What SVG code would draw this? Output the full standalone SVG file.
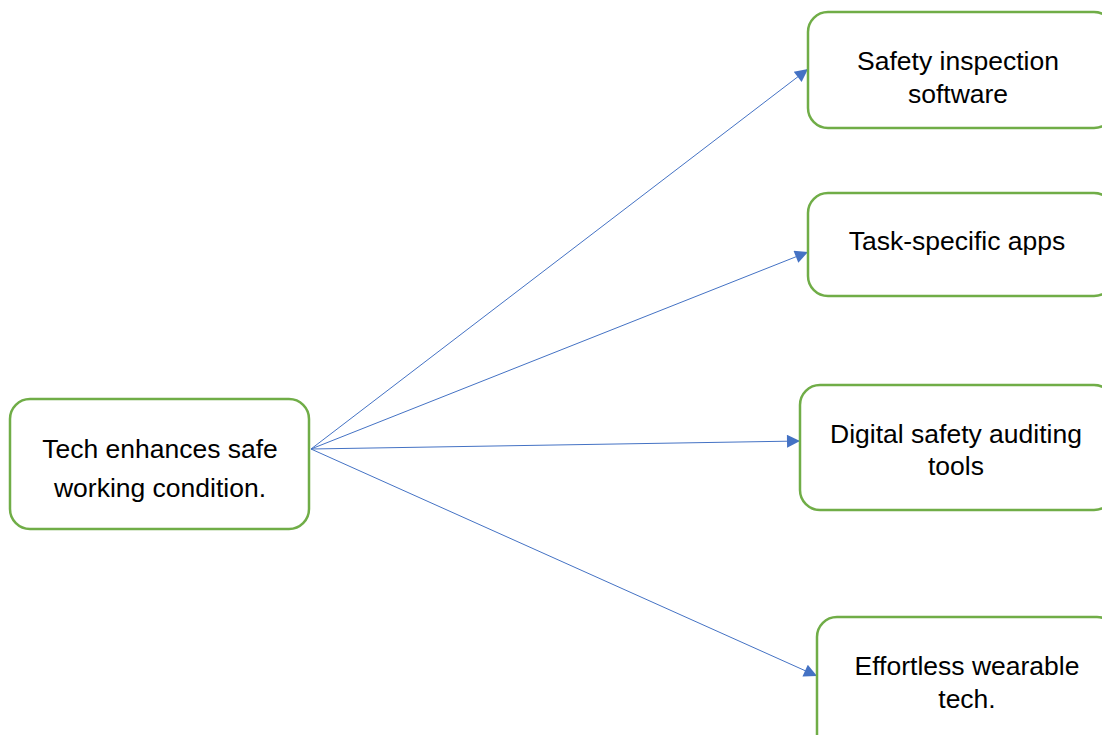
<svg xmlns="http://www.w3.org/2000/svg" width="1102" height="735" viewBox="0 0 1102 735">
  <style>
    .box { fill: #ffffff; stroke: #70AD47; stroke-width: 2.5; }
    .label { font-family: "Liberation Sans", Arial, sans-serif; font-size: 26.5px; fill: #000000; text-anchor: middle; }
    .link { stroke: #4472C4; stroke-width: 1; fill: none; marker-end: url(#arrow); }
  </style>
  <defs>
    <marker id="arrow" viewBox="0 0 10 10" refX="10" refY="5" markerWidth="17" markerHeight="13" markerUnits="userSpaceOnUse" orient="auto">
      <path d="M0,0 L10,5 L0,10 z" fill="#4472C4"/>
    </marker>
  </defs>
  <rect width="1102" height="735" fill="#ffffff"/>

  <g id="connectors">
    <line class="link" x1="311" y1="449" x2="808" y2="69"/>
    <line class="link" x1="311" y1="449" x2="808" y2="252"/>
    <line class="link" x1="311" y1="449" x2="800" y2="441"/>
    <line class="link" x1="311" y1="449" x2="817" y2="676"/>
  </g>

  <g id="node-root">
    <rect class="box" x="10" y="399" width="299" height="130" rx="20"/>
    <text class="label" x="160" y="458">Tech enhances safe</text>
    <text class="label" x="160" y="497">working condition.</text>
  </g>

  <g id="node-inspection">
    <rect class="box" x="808" y="12" width="306" height="116" rx="20"/>
    <text class="label" x="958" y="70">Safety inspection</text>
    <text class="label" x="958" y="103">software</text>
  </g>

  <g id="node-apps">
    <rect class="box" x="808" y="193" width="306" height="103" rx="20"/>
    <text class="label" x="957" y="250">Task-specific apps</text>
  </g>

  <g id="node-auditing">
    <rect class="box" x="800" y="385" width="314" height="125" rx="20"/>
    <text class="label" x="956" y="443">Digital safety auditing</text>
    <text class="label" x="956" y="475">tools</text>
  </g>

  <g id="node-wearable">
    <rect class="box" x="817" y="617" width="300" height="140" rx="20"/>
    <text class="label" x="967" y="675">Effortless wearable</text>
    <text class="label" x="967" y="708">tech.</text>
  </g>
</svg>
